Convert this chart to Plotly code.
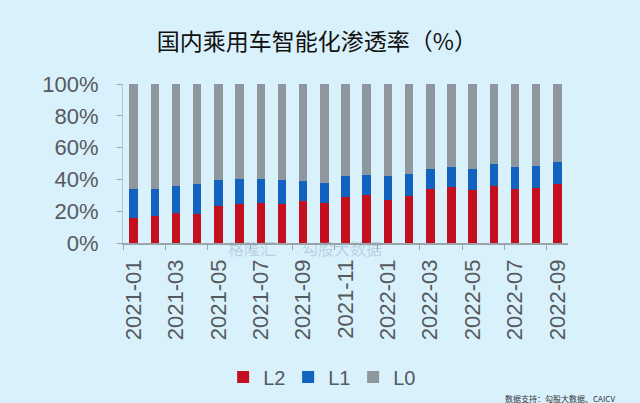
import plotly.graph_objects as go

months = ["2021-01","2021-02","2021-03","2021-04","2021-05","2021-06","2021-07",
          "2021-08","2021-09","2021-10","2021-11","2021-12","2022-01","2022-02",
          "2022-03","2022-04","2022-05","2022-06","2022-07","2022-08","2022-09"]
L2 = [15.8,17.2,18.7,18.1,23.5,24.4,25.0,24.6,26.7,25.0,29.0,30.0,27.3,29.4,34.2,35.3,33.2,35.9,33.8,34.7,37.2]
L1 = [18.0,16.6,17.4,18.7,16.4,15.9,15.3,15.3,12.6,12.6,13.2,12.6,14.7,13.9,12.6,12.2,13.6,13.9,14.3,13.8,13.9]
L0 = [66.2,66.2,63.9,63.2,60.1,59.7,59.7,60.1,60.7,62.4,57.8,57.4,58.0,56.7,53.2,52.5,53.2,50.2,51.9,51.5,48.9]
ytick_vals = [0, 20, 40, 60, 80, 100]
ytick_text = ["0%", "20%", "40%", "60%", "80%", "100%"]

bg = "#d9f1fb"
fig = go.Figure()
fig.add_bar(x=months, y=L2, name="L2", marker_color="#c2101e", marker_line_width=0)
fig.add_bar(x=months, y=L1, name="L1", marker_color="#1262c0", marker_line_width=0)
fig.add_bar(x=months, y=L0, name="L0", marker_color="#8e979d", marker_line_width=0)

fig.update_layout(
    barmode="stack", bargap=0.6,
    width=640, height=403,
    margin=dict(l=123, r=72, t=84, b=160, autoexpand=False),
    paper_bgcolor=bg, plot_bgcolor=bg,
    font=dict(family="Liberation Sans, Arial, sans-serif", color="#555a5e"),
    title=dict(text="国内乘用车智能化渗透率（%）", x=0.495, xanchor="center", y=0.896, yanchor="middle",
               font=dict(family="Noto Sans CJK SC", size=23, color="#111111")),
    showlegend=True,
    legend=dict(orientation="h", x=0.225, xanchor="left", y=-0.843, yanchor="middle",
                font=dict(size=20, color="#555a5e"), itemwidth=30, traceorder="normal",
                entrywidth=20, entrywidthmode="pixels",
                bgcolor="rgba(0,0,0,0)", tracegroupgap=0, itemclick=False),
)
fig.update_xaxes(type="category", tickmode="linear", dtick=2, tick0=0, tickson="boundaries",
                 ticks="outside", ticklen=5, tickcolor="#9aa4aa", showline=True, linecolor="#9aa4aa",
                 linewidth=1.5, tickangle=-90, tickfont=dict(size=22, color="#555a5e"),
                 ticklabelstandoff=6,
                 showgrid=False, range=[-0.5, 20.5], automargin=False)
fig.update_yaxes(range=[0, 100], tickvals=ytick_vals, ticktext=ytick_text, ticks="outside",
                 ticklen=5, tickcolor="#9aa4aa", showline=True, linecolor="#b8c2c8", linewidth=1,
                 showgrid=False, zeroline=False, tickfont=dict(size=22, color="#555a5e"),
                 ticklabelstandoff=14, automargin=False)

# source note and faint watermark
fig.add_annotation(text="数据支持：勾股大数据、CAICV", xref="paper", yref="paper",
                   x=(617 - 123) / 445, xanchor="right", y=-0.975, yanchor="middle", showarrow=False,
                   font=dict(family="Noto Sans CJK SC", size=8, color="#333333"))
fig.add_annotation(text="格隆汇", xref="paper", yref="paper", x=(226 - 123) / 445, y=-0.12,
                   showarrow=False,
                   font=dict(family="Noto Sans CJK SC", size=16, color="rgba(120,150,175,0.35)"))
fig.add_annotation(text="勾股大数据", xref="paper", yref="paper", x=(342 - 123) / 445, y=-0.12,
                   showarrow=False,
                   font=dict(family="Noto Sans CJK SC", size=16, color="rgba(120,150,175,0.35)"))

fig.write_html("out.html", config={"displayModeBar": False},
               post_script="document.body.style.margin='0';document.body.style.background='%s';" % bg)
